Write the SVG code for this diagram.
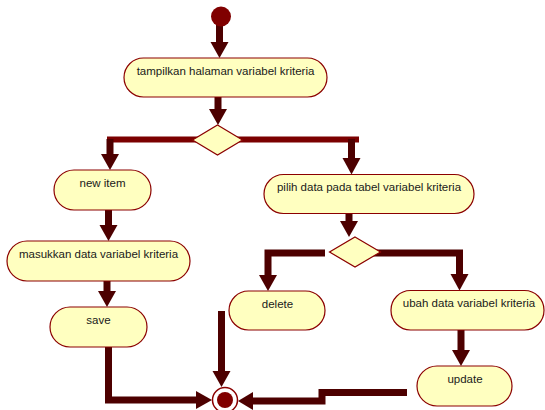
<svg xmlns="http://www.w3.org/2000/svg" width="545" height="410" viewBox="0 0 545 410">
<style>
.node rect{fill:#ffffc0;stroke:#8b0000;stroke-width:1.2}
.node text{font-family:"Liberation Sans",Arial,sans-serif;font-size:11.5px;fill:#1a1a1a;text-anchor:middle}
.dia{fill:#ffffc0;stroke:#8b0000;stroke-width:1.2}
.ln{fill:none;stroke:#4d0000;stroke-width:7}
.bar{fill:none;stroke:#7b0000;stroke-width:6}
.hd{fill:#4d0000}
</style>
<rect width="545" height="410" fill="#ffffff"/>
<g id="connectors">
<line class="bar" x1="107" y1="139.5" x2="359" y2="139.5"/>
<line class="ln" x1="219.5" y1="17" x2="219.5" y2="43"/>
<polygon class="hd" points="210.5,42 228.5,42 219.5,58"/>
<line class="ln" x1="218" y1="97" x2="218" y2="110"/>
<polygon class="hd" points="209,109 227,109 218,125"/>
<line class="ln" x1="110" y1="139" x2="110" y2="155"/>
<polygon class="hd" points="101,154 119,154 110,170"/>
<line class="ln" x1="351.5" y1="139" x2="351.5" y2="159"/>
<polygon class="hd" points="342.5,158 360.5,158 351.5,174.5"/>
<line class="ln" x1="108.5" y1="210" x2="108.5" y2="226"/>
<polygon class="hd" points="99.5,225 117.5,225 108.5,241"/>
<line class="ln" x1="107" y1="281" x2="107" y2="292"/>
<polygon class="hd" points="98,291 116,291 107,307"/>
<polyline class="ln" points="108.5,347 108.5,400 197,400"/>
<polygon class="hd" points="196,391 196,409 212,400"/>
<line class="ln" x1="349" y1="214" x2="349" y2="222"/>
<polygon class="hd" points="340,221 358,221 349,237"/>
<polyline class="ln" points="325,253 268,253 268,276"/>
<polygon class="hd" points="259,275 277,275 268,291"/>
<polyline class="ln" points="373,253 459.5,253 459.5,275"/>
<polygon class="hd" points="450.5,274 468.5,274 459.5,290.5"/>
<line class="ln" x1="461" y1="330" x2="461" y2="351"/>
<polygon class="hd" points="452,350 470,350 461,366"/>
<line class="ln" x1="221.5" y1="311" x2="221.5" y2="372"/>
<polygon class="hd" points="212.5,371 230.5,371 221.5,387"/>
<polyline class="ln" points="407,392.5 322,392.5 322,401 252,401"/>
<polygon class="hd" points="253,392 253,410 238,401"/>
</g>
<g id="start"><circle cx="221" cy="16.5" r="10" fill="#800000"/></g>
<g id="n1" class="node"><rect x="124" y="58" width="203" height="39" rx="19.5"/><text x="225.5" y="75">tampilkan halaman variabel kriteria</text></g>
<g id="decision1"><polygon class="dia" points="217.5,125 242.5,140 217.5,155 192.5,140"/></g>
<g id="n2" class="node"><rect x="54" y="170" width="97" height="40" rx="20"/><text x="102.5" y="186.5">new item</text></g>
<g id="n3" class="node"><rect x="7" y="241" width="183" height="40" rx="20"/><text x="98.5" y="257.5">masukkan data variabel kriteria</text></g>
<g id="n4" class="node"><rect x="50" y="307" width="97" height="40" rx="20"/><text x="98.5" y="323.5">save</text></g>
<g id="n5" class="node"><rect x="264" y="174.5" width="210" height="39" rx="19.5"/><text x="369" y="191">pilih data pada tabel variabel kriteria</text></g>
<g id="decision2"><polygon class="dia" points="355,237 380.5,252 355,267 329.5,252"/></g>
<g id="n6" class="node"><rect x="229" y="291" width="96" height="39" rx="19.5"/><text x="277.5" y="307.5">delete</text></g>
<g id="n7" class="node"><rect x="391" y="290.5" width="153" height="39.5" rx="19.5"/><text x="469" y="307">ubah data variabel kriteria</text></g>
<g id="n8" class="node"><rect x="417" y="366" width="95" height="40" rx="20"/><text x="465" y="382.5">update</text></g>
<g id="end"><circle cx="225" cy="400" r="12.5" fill="#ffffff" stroke="#8b0000" stroke-width="1.5"/><circle cx="225" cy="400" r="8" fill="#800000"/></g>
</svg>
